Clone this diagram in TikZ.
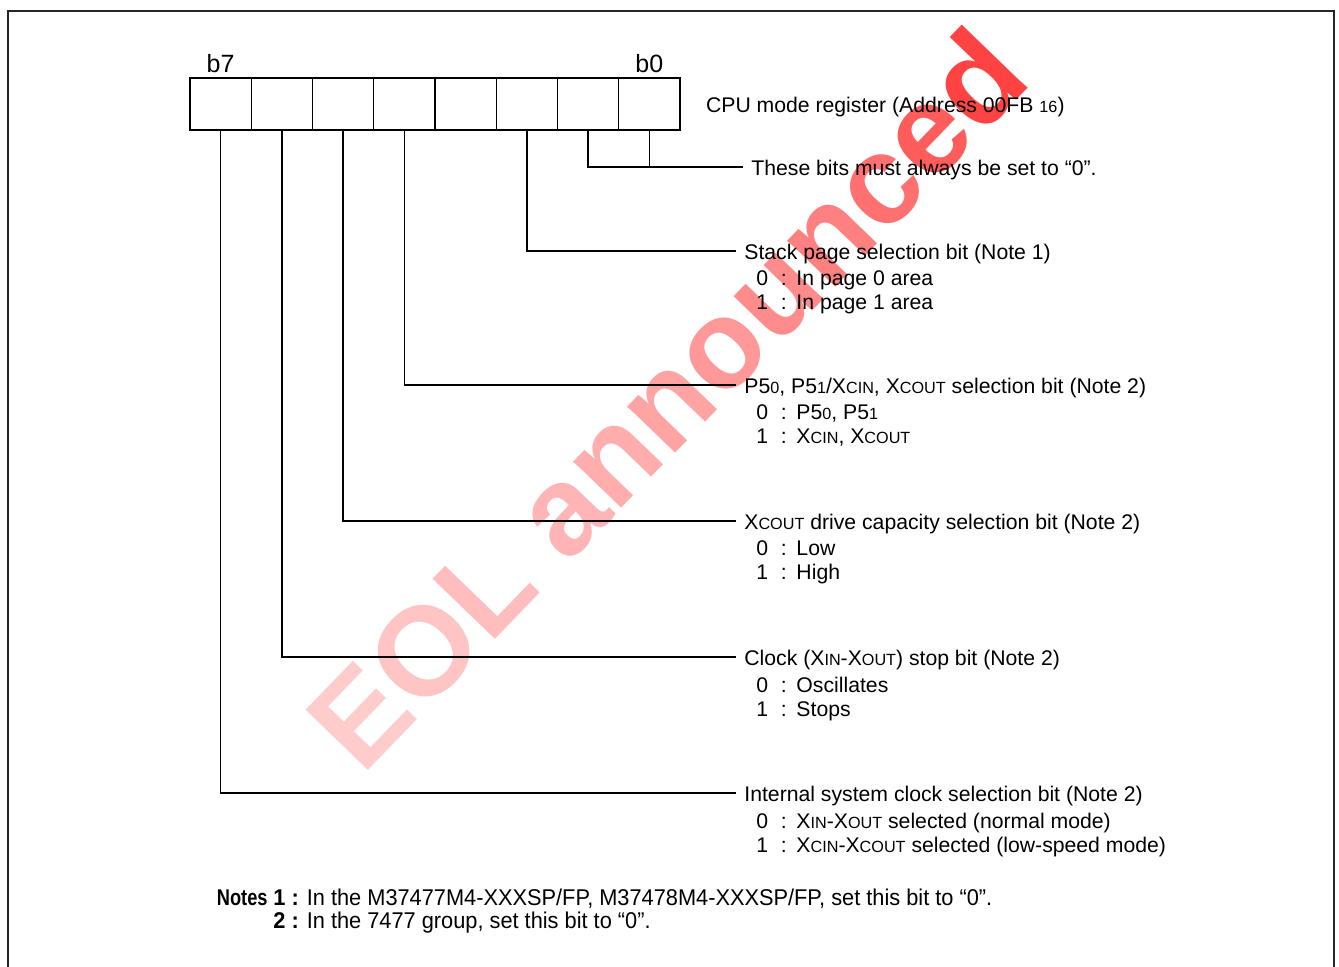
\documentclass[tikz,border=0pt]{standalone}
\usepackage{fontspec}
\setmainfont{Liberation Sans}
\newfontfamily\narrowfont[FakeStretch=0.955]{Liberation Sans}
\newfontfamily\notesfont[FakeStretch=0.8]{Liberation Sans}
\usetikzlibrary{positioning}

\newcommand\lo[1]{{\fontsize{8.1}{8.1}\selectfont #1}}
\newcommand\bitopt[2]{\makebox[12.2pt][l]{#1}:\hspace{4.9pt}#2}
\newcommand\wm[2]{\textcolor{red!#1}{#2}}

\begin{document}
\begin{tikzpicture}[
x=0.5pt,y=-0.5pt,
font=\fontsize{10.6}{12}\selectfont,
cell/.style={rectangle,draw,line width=0.65pt,minimum width=30.625pt,minimum height=26pt,inner sep=0pt},
lead/.style={line width=0.7pt},
ttl/.style={anchor=west,inner xsep=4pt,inner ysep=0pt,text height=9.6pt,text depth=0.8pt},
opts/.style={inner sep=0pt,align=left},
frame/.style={line width=1.1pt,draw=black!85}
]
\useasboundingbox (0,0) rectangle (1339,967);

% watermark behind everything
\node[rotate=46,inner sep=0pt,font=\fontsize{63}{63}\selectfont\bfseries] (eol) at (666,398)
{\wm{20}{E}\wm{23}{O}\wm{26}{L} \wm{29}{a}\wm{32}{n}\wm{36}{n}\wm{40}{o}\wm{45}{u}\wm{50}{n}\wm{56}{c}\wm{64}{e}\wm{74}{d}};

% frame
\draw[frame] (8,967) -- (8,11) -- (1334,11) -- (1334,967);

% register
\foreach \i in {0,...,7}
  \node[cell] (c\i) at ({680-61.25*(\i+0.5)},104) {};
\node[above=2.5pt of c7.north,anchor=base,inner sep=0pt,font=\fontsize{12.5}{12.5}\selectfont] (b7) {b7};
\node[above=2.5pt of c0.north,anchor=base,inner sep=0pt,font=\fontsize{12.5}{12.5}\selectfont] (b0) {b0};
\node[ttl,right=8.5pt of c0] (reg) {CPU mode register (Address 00FB \lo{16})};

% bit descriptions
\node[ttl] (fix) at (743,167) {These bits must always be set to “0”.};

\node[ttl] (stack) at (736,251) {Stack page selection bit (Note 1)};
\node[opts,below=4.3pt of stack.south west,anchor=north west,xshift=10pt] (stackopt)
{\bitopt{0}{In page 0 area}\\\bitopt{1}{In page 1 area}};

\node[ttl] (port) at (736,385) {P5\lo{0}, P5\lo{1}/X\lo{CIN}, X\lo{COUT} selection bit (Note 2)};
\node[opts,below=4.3pt of port.south west,anchor=north west,xshift=10pt] (portopt)
{\bitopt{0}{P5\lo{0}, P5\lo{1}}\\\bitopt{1}{X\lo{CIN}, X\lo{COUT}}};

\node[ttl] (drive) at (736,521) {X\lo{COUT} drive capacity selection bit (Note 2)};
\node[opts,below=4.3pt of drive.south west,anchor=north west,xshift=10pt] (driveopt)
{\bitopt{0}{Low}\\\bitopt{1}{High}};

\node[ttl] (clock) at (736,657) {Clock (X\lo{IN}-X\lo{OUT}) stop bit (Note 2)};
\node[opts,below=4.3pt of clock.south west,anchor=north west,xshift=10pt] (clockopt)
{\bitopt{0}{Oscillates}\\\bitopt{1}{Stops}};

\node[ttl] (sysclk) at (736,793) {Internal system clock selection bit (Note 2)};
\node[opts,below=4.3pt of sysclk.south west,anchor=north west,xshift=10pt] (sysclkopt)
{\bitopt{0}{X\lo{IN}-X\lo{OUT} selected (normal mode)}\\\bitopt{1}{X\lo{CIN}-X\lo{COUT} selected (low-speed mode)}};

% leads
\draw[lead] (c1.south) |- (fix.west);
\draw[lead] (c0.south) -- (c0.south |- fix.west);
\draw[lead] (c2.south) |- (stack.west);
\draw[lead] (c4.south) |- (port.west);
\draw[lead] (c5.south) |- (drive.west);
\draw[lead] (c6.south) |- (clock.west);
\draw[lead] (c7.south) |- (sysclk.west);

% notes
\node[anchor=base west,inner sep=0pt,font=\narrowfont\fontsize{11.4}{12}\selectfont] (n1) at (273,905)
{\textbf{1 :} In the M37477M4-XXXSP/FP, M37478M4-XXXSP/FP, set this bit to “0”.};
\node[anchor=base east,inner sep=0pt,font=\notesfont\fontsize{11.4}{12}\selectfont\bfseries] (notes) at ([xshift=-2.5pt]n1.base west) {Notes};
\node[anchor=base west,inner sep=0pt,font=\narrowfont\fontsize{11.4}{12}\selectfont] (n2) at ([yshift=-11.5pt]n1.base west)
{\textbf{2 :} In the 7477 group, set this bit to “0”.};
\end{tikzpicture}
\end{document}
